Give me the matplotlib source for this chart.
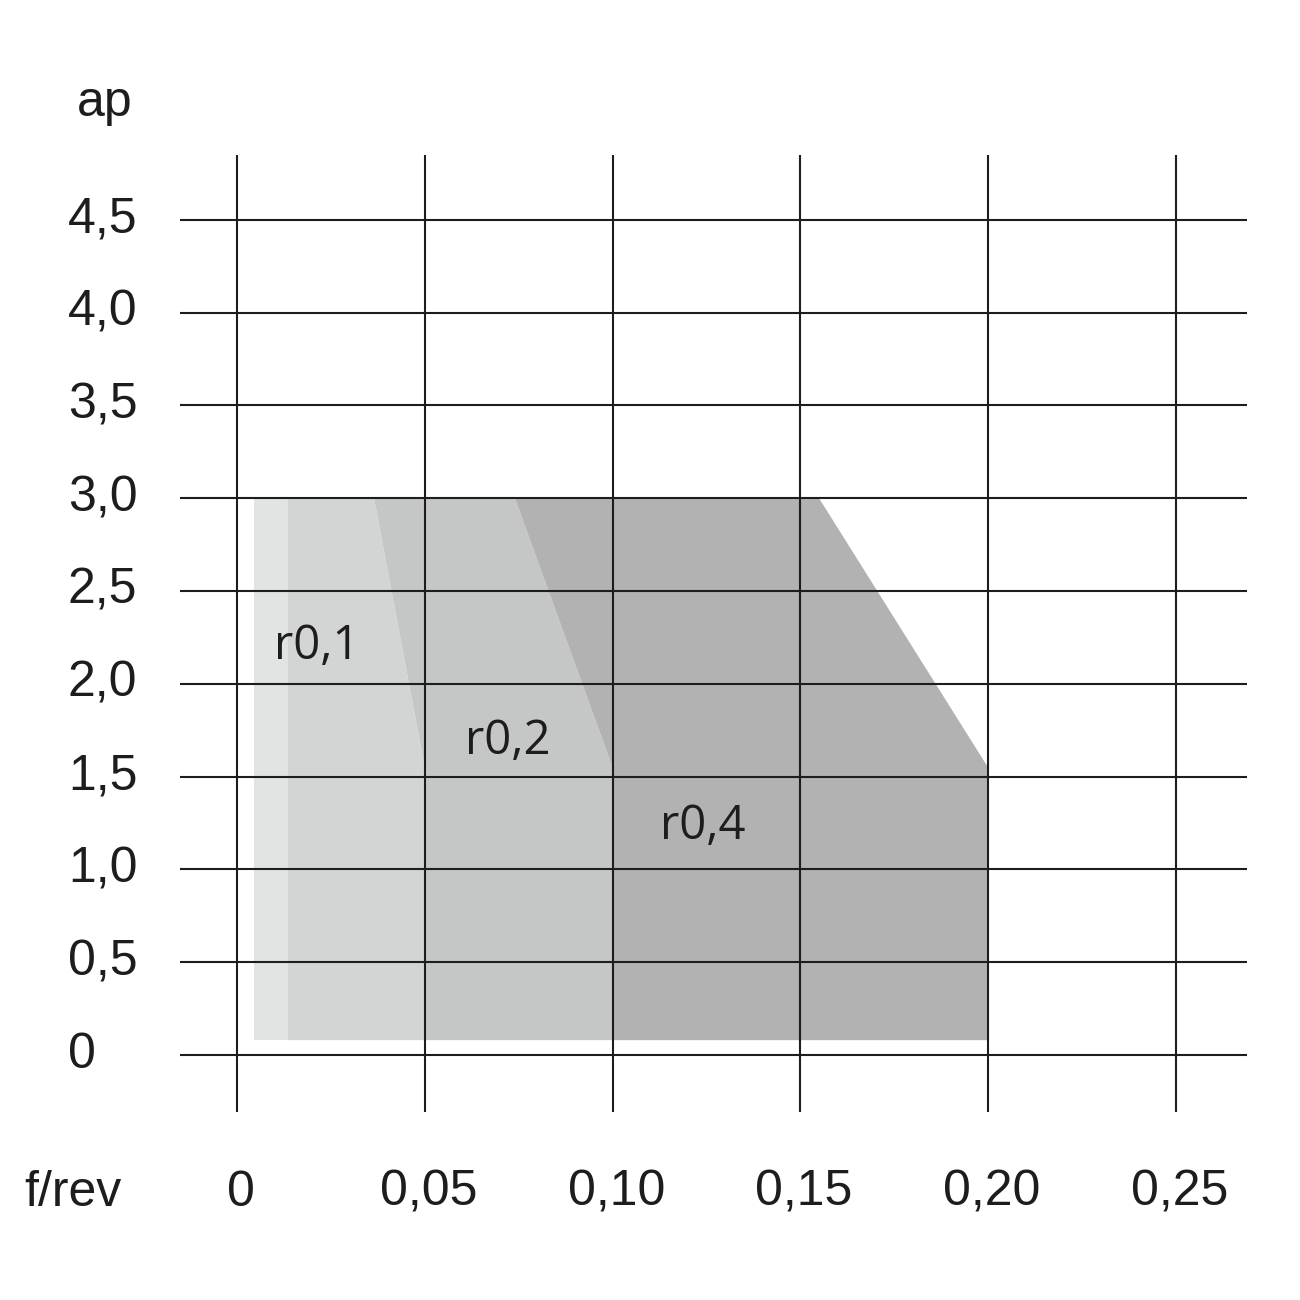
import matplotlib
matplotlib.use('Agg')
import matplotlib.pyplot as plt

# data
x_ticks = [0, 0.05, 0.10, 0.15, 0.20, 0.25]
x_labels = ['0', '0,05', '0,10', '0,15', '0,20', '0,25']
y_ticks = [0, 0.5, 1.0, 1.5, 2.0, 2.5, 3.0, 3.5, 4.0, 4.5]
y_labels = ['0', '0,5', '1,0', '1,5', '2,0', '2,5', '3,0', '3,5', '4,0', '4,5']

# zones (polygons f, ap)
base_x = [0.0045, 0.0134, 0.0134, 0.0045]
base_y = [0.08, 0.08, 3.0, 3.0]
r01_x = [0.0134, 0.05, 0.05, 0.0365, 0.0134]
r01_y = [0.08, 0.08, 1.55, 3.0, 3.0]
r02_x = [0.05, 0.10, 0.10, 0.0740, 0.0365, 0.05]
r02_y = [0.08, 0.08, 1.55, 3.0, 3.0, 1.55]
r04_x = [0.10, 0.20, 0.20, 0.1550, 0.0740, 0.10]
r04_y = [0.08, 0.08, 1.55, 3.0, 3.0, 1.55]
zone_labels = ['r0,1', 'r0,2', 'r0,4']
zone_label_x = [0.0213, 0.0722, 0.1241]
zone_label_y = [2.2, 1.69, 1.23]

sx = 187.75 / 0.05   # px per unit f
sy = 185.6           # px per unit ap
fig = plt.figure(figsize=(13, 13), dpi=100)
ax = fig.add_axes([0, 0, 1, 1])
ax.set_xlim(-237 / sx, (1300 - 237) / sx)
ax.set_ylim((1055 - 1300) / sy, 1055 / sy)
ax.axis('off')

ax.fill(base_x, base_y, color='#e2e3e3', lw=0)
ax.fill(r01_x, r01_y, color='#d3d4d4', lw=0)
ax.fill(r02_x, r02_y, color='#c5c6c6', lw=0)
ax.fill(r04_x, r04_y, color='#b1b2b1', lw=0)

gc = '#1d1d1b'
ax.hlines(y_ticks, (180 - 237) / sx, (1247 - 237) / sx, color=gc, lw=1.5)
ax.vlines(x_ticks, (1055 - 1112) / sy, (1055 - 155) / sy, color=gc, lw=1.5)

tf = dict(family='Liberation Sans', fontsize=36, color='#1d1d1b')
for y, lab in zip(y_ticks, y_labels):
    ax.text((68 - 237) / sx, y, lab, ha='left', va='center', **tf)
for x, lab in zip(x_ticks, x_labels):
    ax.text(x + 0.001, (1055 - 1193) / sy, lab, ha='center', va='center', **tf)
ax.text((77 - 237) / sx, (1055 - 103) / sy, 'ap', ha='left', va='center', **tf)
ax.text((24 - 237) / sx, (1055 - 1193) / sy, 'f/rev', ha='left', va='center', **tf)

for x, y, lab in zip(zone_label_x, zone_label_y, zone_labels):
    ax.text(x, y, lab, ha='center', va='center', family='Open Sans',
            fontsize=34, color='#1d1d1b')

fig.savefig('out.png', dpi=100)
